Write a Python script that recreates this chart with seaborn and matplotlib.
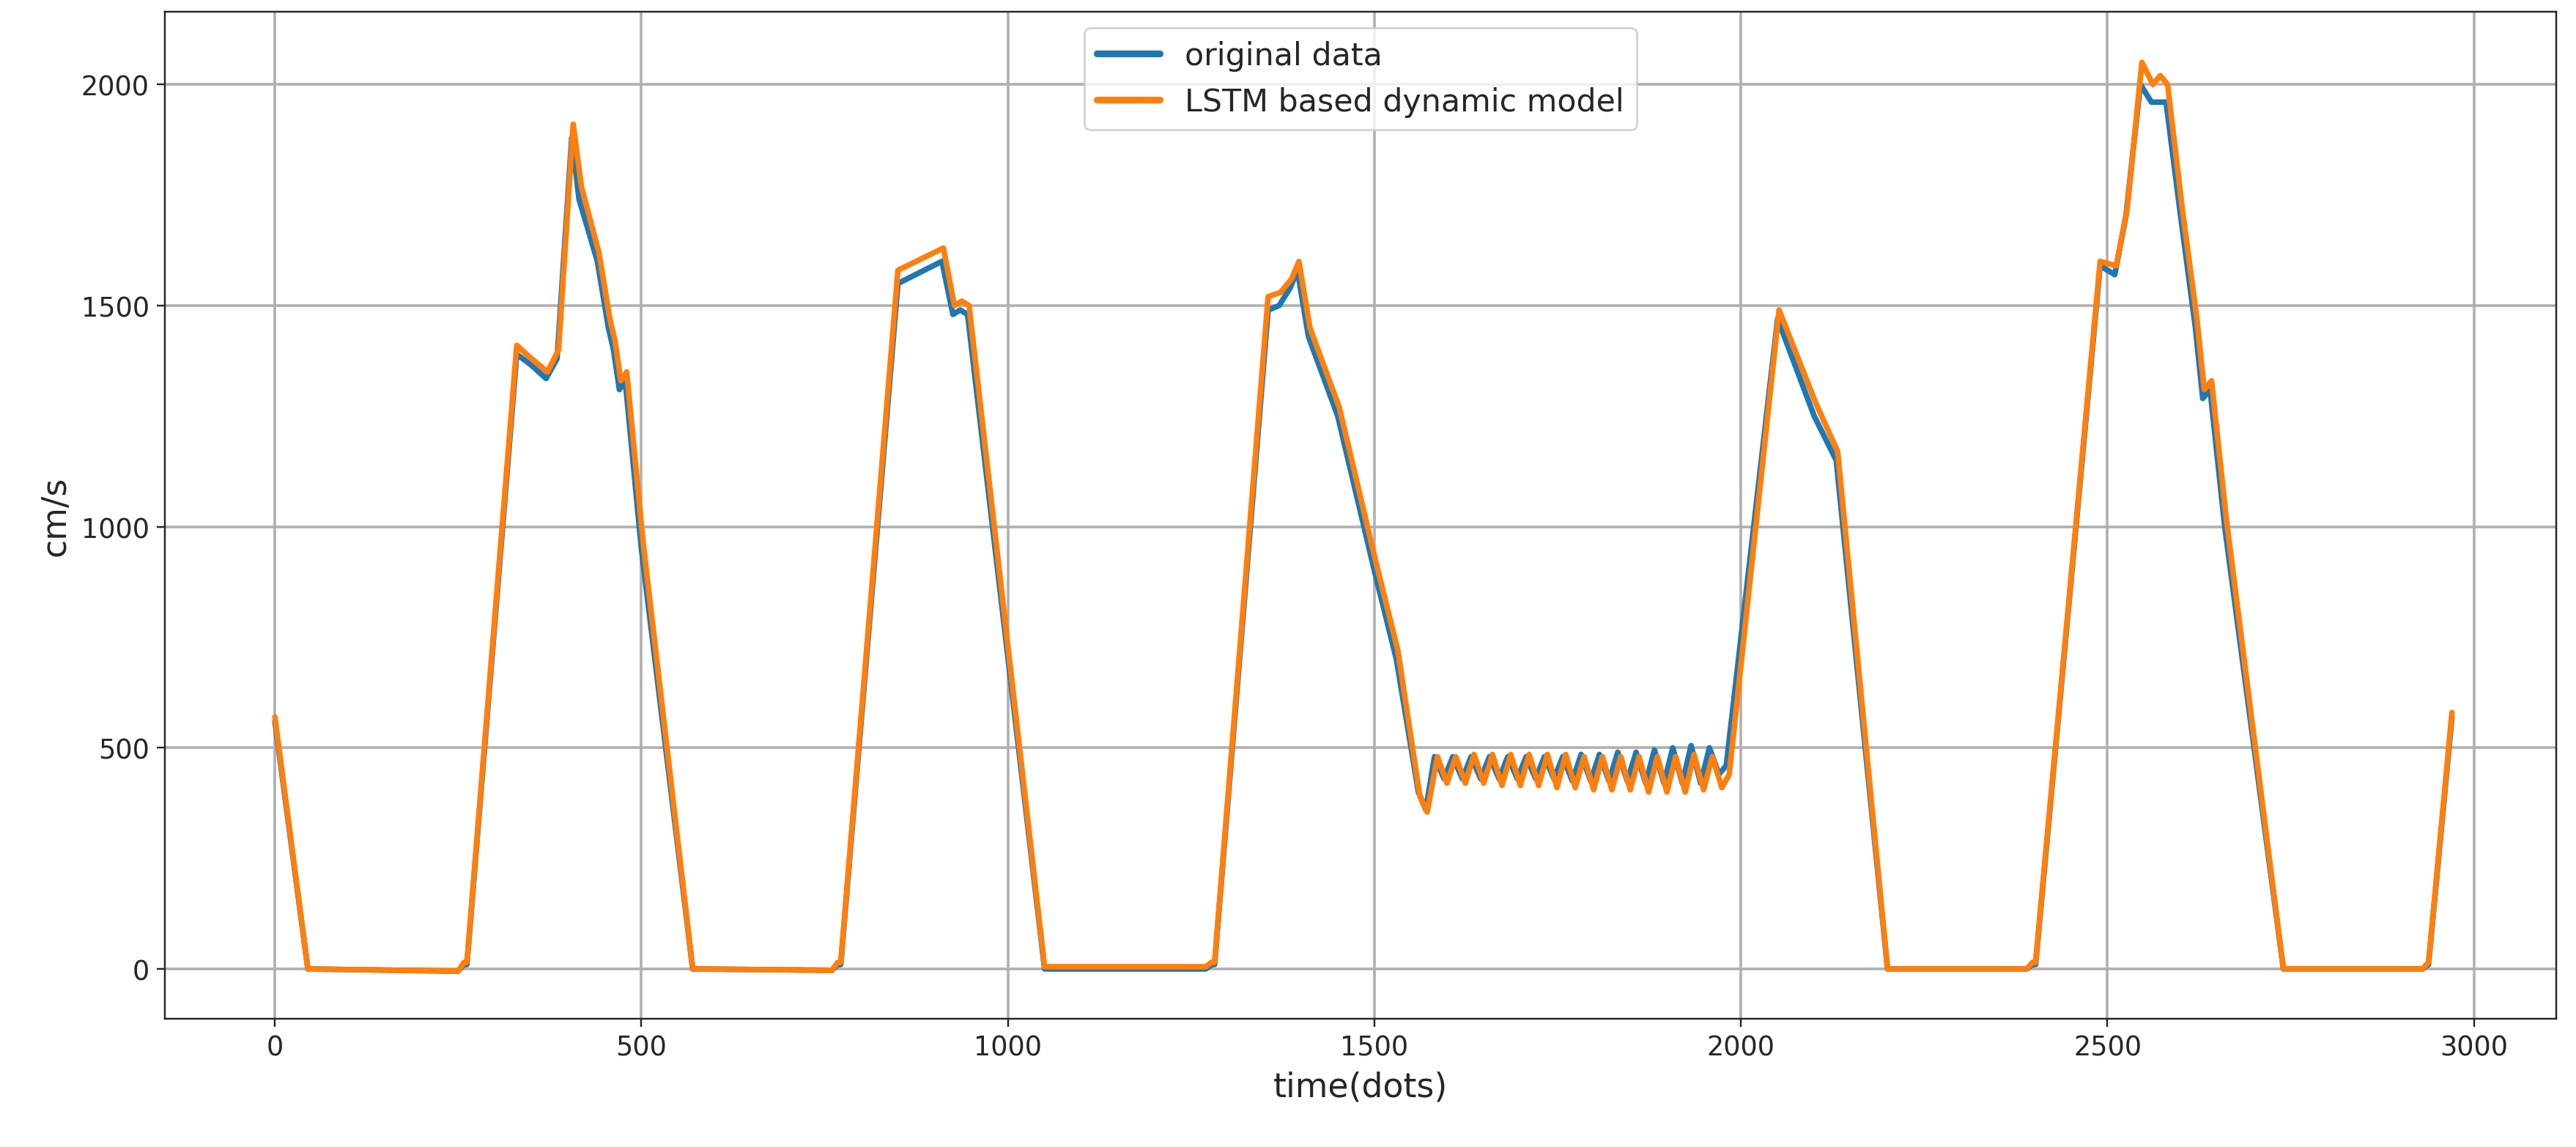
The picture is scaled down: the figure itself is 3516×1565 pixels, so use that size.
import matplotlib
matplotlib.use("Agg")
import matplotlib.pyplot as plt
import pandas as pd
import seaborn as sns

# keypoints (time in dots, speed in cm/s)
orig_t = [0, 45, 250, 258, 262, 330, 350, 370, 385, 405, 415, 440, 455, 462, 470, 478, 500, 570, 760, 768, 772,
          850, 910, 925, 935, 945, 1050, 1270, 1278, 1282, 1355, 1370, 1385, 1395, 1410, 1450, 1500, 1530, 1560, 1570,
          1582, 1595, 1607, 1620, 1632, 1645, 1657, 1670, 1682, 1695, 1707, 1720, 1732, 1745, 1757, 1770, 1782, 1795,
          1807, 1820, 1832, 1845, 1857, 1870, 1882, 1895, 1907, 1920, 1932, 1945, 1957, 1970, 1980,
          2050, 2100, 2130, 2200, 2390, 2398, 2402, 2490, 2510, 2525, 2545, 2560, 2580, 2600, 2620, 2630, 2640, 2660,
          2740, 2930, 2938, 2970]
orig_v = [560, 0, -5, 10, 10, 1390, 1365, 1335, 1380, 1880, 1740, 1600, 1450, 1400, 1310, 1330, 950, 0, -3, 10, 10,
          1550, 1600, 1480, 1490, 1480, 0, 0, 10, 10, 1490, 1500, 1540, 1580, 1430, 1250, 900, 700, 400, 360,
          480, 430, 480, 430, 480, 430, 480, 430, 480, 430, 480, 430, 480, 430, 480, 425, 485, 425, 485, 425,
          490, 425, 490, 420, 495, 420, 500, 420, 505, 420, 500, 440, 460,
          1470, 1250, 1150, 0, 0, 10, 10, 1590, 1570, 1700, 2000, 1960, 1960, 1700, 1450, 1290, 1310, 1000,
          0, 0, 10, 570]

lstm_t = [0, 45, 250, 258, 262, 330, 350, 372, 387, 407, 418, 442, 457, 464, 472, 480, 502, 570, 760, 768, 772,
          850, 912, 927, 937, 947, 1050, 1270, 1278, 1282, 1355, 1372, 1387, 1397, 1412, 1452, 1502, 1532, 1562, 1572,
          1586, 1599, 1611, 1624, 1636, 1649, 1661, 1674, 1686, 1699, 1711, 1724, 1736, 1749, 1761, 1774, 1786, 1799,
          1811, 1824, 1836, 1849, 1861, 1874, 1886, 1899, 1911, 1924, 1936, 1949, 1961, 1974, 1984,
          2052, 2102, 2132, 2200, 2390, 2398, 2402, 2490, 2512, 2527, 2547, 2562, 2572, 2582, 2602, 2622, 2632, 2642,
          2662, 2740, 2930, 2938, 2970]
lstm_v = [570, 0, -5, 15, 15, 1410, 1380, 1350, 1400, 1910, 1770, 1620, 1470, 1420, 1330, 1350, 970, 0, -3, 15, 15,
          1580, 1630, 1500, 1510, 1500, 5, 5, 15, 15, 1520, 1530, 1560, 1600, 1450, 1270, 920, 720, 390, 355,
          480, 420, 480, 420, 485, 420, 485, 415, 485, 415, 485, 415, 485, 410, 485, 410, 480, 405, 480, 405,
          480, 405, 480, 400, 480, 400, 480, 400, 485, 405, 480, 410, 440,
          1490, 1280, 1170, 0, 0, 15, 15, 1600, 1590, 1720, 2050, 2000, 2020, 2000, 1720, 1470, 1310, 1330,
          1020, 0, 0, 15, 580]

orig = pd.DataFrame({"t": orig_t, "v": orig_v, "series": "original data"})
lstm = pd.DataFrame({"t": lstm_t, "v": lstm_v, "series": "LSTM based dynamic model"})
frame = pd.concat([orig, lstm], ignore_index=True)

sns.set_style("ticks")
plt.rcParams["font.family"] = ["DejaVu Sans"]

fig, ax = plt.subplots(figsize=(15.986, 7.118), dpi=220)
sns.lineplot(data=frame, x="t", y="v", hue="series", palette=["#1f77b4", "#ff7f0e"],
             linewidth=2.5, sort=False, estimator=None, ax=ax)
ax.set_xlim(-150, 3112)
ax.set_ylim(-112, 2164)
ax.set_xticks([0, 500, 1000, 1500, 2000, 2500, 3000])
ax.set_yticks([0, 500, 1000, 1500, 2000])
ax.tick_params(labelsize=12)
ax.grid(True, color="#b0b0b0", linewidth=1.2)
ax.set_xlabel("time(dots)", fontsize=15)
ax.set_ylabel("cm/s", fontsize=15)
leg = ax.legend(loc="upper center", fontsize=14, title=None, frameon=True, fancybox=True)
for line in leg.get_lines():
    line.set_linewidth(3)
fig.subplots_adjust(left=0.064, right=0.992, top=0.989, bottom=0.112)
fig.savefig("out.png", dpi=220)
